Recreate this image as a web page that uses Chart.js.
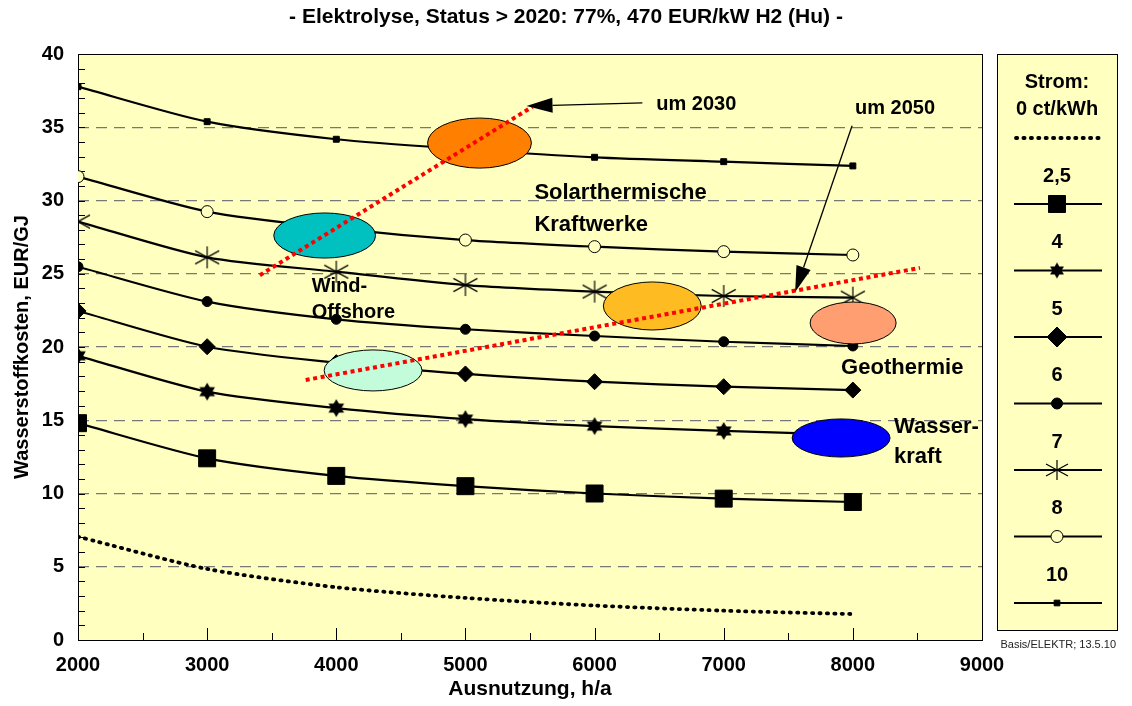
<!DOCTYPE html>
<html><head><meta charset="utf-8">
<script src="https://cdn.jsdelivr.net/npm/chart.js@4.4.0/dist/chart.umd.min.js"></script>
<style>html,body{margin:0;padding:0;background:#fff;}#wrap{width:1132px;height:706px;}</style>
</head><body><div id="wrap"><canvas id="c" width="1132" height="706"></canvas></div>
<script>
// ---------- data ----------
const hours = [2000, 3000, 4000, 5000, 6000, 7000, 8000];
const strom0  = [7.05, 4.85, 3.6, 2.87, 2.35, 2.0, 1.77];
const strom25 = [14.8, 12.4, 11.2, 10.5, 10.0, 9.65, 9.42];
const strom4  = [19.4, 16.95, 15.83, 15.08, 14.6, 14.27, 14.0];
const strom5  = [22.46, 20.02, 18.93, 18.16, 17.63, 17.29, 17.06];
const strom6  = [25.48, 23.1, 21.89, 21.21, 20.75, 20.36, 20.07];
const strom7  = [28.56, 26.12, 25.14, 24.23, 23.78, 23.48, 23.37];
const strom8  = [31.63, 29.24, 28.1, 27.3, 26.85, 26.51, 26.28];
const strom10 = [37.77, 35.38, 34.18, 33.5, 32.95, 32.65, 32.36];
const seriesLabels = ['0 ct/kWh', '2,5', '4', '5', '6', '7', '8', '10'];
const xTickValues = [2000, 3000, 4000, 5000, 6000, 7000, 8000, 9000];
const yTickValues = [0, 5, 10, 15, 20, 25, 30, 35, 40];
const titleText = '- Elektrolyse, Status > 2020: 77%, 470 EUR/kW H2 (Hu) -';
const xTitle = 'Ausnutzung, h/a';
const yTitle = 'Wasserstoffkosten, EUR/GJ';
const legendHeader = ['Strom:', '0 ct/kWh'];
const sourceNote = 'Basis/ELEKTR; 13.5.10';

// annotation shapes (data coordinates)
const ellipses = [
  {cx: 5109, cy: 33.92, rx: 402, ry: 1.71, color: '#FF8000'},
  {cx: 3910, cy: 27.61, rx: 394, ry: 1.54, color: '#00C0C0'},
  {cx: 6447, cy: 22.8,  rx: 379, ry: 1.64, color: '#FFBC22'},
  {cx: 8002, cy: 21.64, rx: 333, ry: 1.43, color: '#FF9E70'},
  {cx: 4285, cy: 18.4,  rx: 379, ry: 1.40, color: '#C2FCDB'},
  {cx: 7909, cy: 13.79, rx: 379, ry: 1.30, color: '#0000FF'}
];
const trendLines = [
  {x1: 3408, y1: 24.9, x2: 5519, y2: 36.4},
  {x1: 3763, y1: 17.75, x2: 8520, y2: 25.4}
];
const arrows = [
  {x1: 6370, y1: 36.66, x2: 5473, y2: 36.45},
  {x1: 7994, y1: 35.1, x2: 7553, y2: 23.75}
];
const labels = [
  {text: 'um 2030', x: 6478, y: 36.52, size: 20},
  {text: 'um 2050', x: 8017, y: 36.25, size: 20},
  {text: 'Solarthermische', x: 5534, y: 30.51, size: 22},
  {text: 'Kraftwerke', x: 5534, y: 28.3, size: 22},
  {text: 'Wind-', x: 3810, y: 24.16, size: 20},
  {text: 'Offshore', x: 3810, y: 22.39, size: 20},
  {text: 'Geothermie', x: 7909, y: 18.57, size: 22},
  {text: 'Wasser-', x: 8319, y: 14.54, size: 22},
  {text: 'kraft', x: 8319, y: 12.49, size: 22}
];

// ---------- marker images ----------
function makeHexagram(r) {
  const s = Math.ceil(2 * r + 2);
  const c = document.createElement('canvas'); c.width = s; c.height = s;
  const g = c.getContext('2d'); g.fillStyle = '#000';
  const cx = s / 2, cy = s / 2;
  [-Math.PI / 2, Math.PI / 2].forEach(off => {
    g.beginPath();
    for (let k = 0; k < 3; k++) {
      const a = off + k * 2 * Math.PI / 3;
      g.lineTo(cx + r * Math.cos(a), cy + r * Math.sin(a));
    }
    g.closePath(); g.fill();
  });
  return c;
}
function makeAsterisk(w, h) {
  const c = document.createElement('canvas'); c.width = w + 2; c.height = h + 2;
  const g = c.getContext('2d'); g.strokeStyle = '#000'; g.lineWidth = 1.2;
  const cx = (w + 2) / 2, cy = (h + 2) / 2;
  g.beginPath();
  g.moveTo(cx, 1); g.lineTo(cx, h + 1);
  g.moveTo(1, cy - h * 0.3); g.lineTo(w + 1, cy + h * 0.3);
  g.moveTo(1, cy + h * 0.3); g.lineTo(w + 1, cy - h * 0.3);
  g.stroke();
  return c;
}
const starImg = makeHexagram(9);
const starImgLegend = makeHexagram(8);
const astImg = makeAsterisk(24, 22);
const astImgLegend = makeAsterisk(22, 20);

const PLOT_BG = '#FFFFC0';
const FONT = '"Liberation Sans", Arial, sans-serif';

function lineDs(label, data, style) {
  return Object.assign({
    label: label,
    data: hours.map((h, i) => ({x: h, y: data[i]})),
    borderColor: '#000', borderWidth: 2.2, tension: 0.25,
    pointBackgroundColor: '#000', pointBorderColor: '#000', pointBorderWidth: 1,
    pointHoverRadius: 0, fill: false, yAxisID: 'y'
  }, style);
}
const datasets = [
  lineDs(seriesLabels[0], strom0, {borderWidth: 3.8, borderDash: [1.2, 6.2], borderCapStyle: 'round', pointRadius: 0}),
  lineDs(seriesLabels[1], strom25, {pointStyle: 'rect', pointRadius: 12}),
  lineDs(seriesLabels[2], strom4, {pointStyle: starImg, pointRadius: 9}),
  lineDs(seriesLabels[3], strom5, {pointStyle: 'rectRot', pointRadius: 8}),
  lineDs(seriesLabels[4], strom6, {pointStyle: 'circle', pointRadius: 5}),
  lineDs(seriesLabels[5], strom7, {pointStyle: astImg, pointRadius: 11}),
  lineDs(seriesLabels[6], strom8, {pointStyle: 'circle', pointRadius: 6, pointBackgroundColor: PLOT_BG, pointBorderWidth: 1}),
  lineDs(seriesLabels[7], strom10, {pointStyle: 'rect', pointRadius: 4.2})
];
const legendMarkers = [
  null,
  {pointStyle: 'rect', radius: 12, fill: '#000'},
  {pointStyle: starImgLegend, radius: 8, fill: '#000'},
  {pointStyle: 'rectRot', radius: 10, fill: '#000'},
  {pointStyle: 'circle', radius: 5.5, fill: '#000'},
  {pointStyle: astImgLegend, radius: 10, fill: '#000'},
  {pointStyle: 'circle', radius: 6, fill: PLOT_BG},
  {pointStyle: 'rect', radius: 4, fill: '#000'}
];

const decor = {
  id: 'decor',
  beforeDraw(chart) {
    const {ctx, chartArea: a} = chart;
    ctx.save();
    ctx.fillStyle = '#fff'; ctx.fillRect(0, 0, chart.width, chart.height);
    ctx.fillStyle = PLOT_BG; ctx.fillRect(a.left, a.top, a.right - a.left, a.bottom - a.top);
    ctx.restore();
  },
  beforeDatasetsDraw(chart) {
    const {ctx, chartArea: a, scales: {x, y}} = chart;
    ctx.save();
    ctx.strokeStyle = '#000'; ctx.lineWidth = 1;
    ctx.beginPath();
    for (let v = 1; v < 40; v++) {
      const py = Math.round(y.getPixelForValue(v)) + 0.5;
      ctx.moveTo(a.left, py); ctx.lineTo(a.left + 7, py);
    }
    for (let v = 2500; v < 9000; v += 500) {
      const pxx = Math.round(x.getPixelForValue(v)) + 0.5;
      const len = (v % 1000 === 0) ? 12 : 7;
      ctx.moveTo(pxx, a.bottom); ctx.lineTo(pxx, a.bottom - len);
    }
    ctx.stroke();
    ctx.strokeRect(Math.round(a.left) + 0.5, Math.round(a.top) + 0.5, Math.round(a.right - a.left), Math.round(a.bottom - a.top));
    ctx.restore();
  },
  afterDatasetsDraw(chart) {
    const {ctx, scales: {x, y}} = chart;
    const X = v => x.getPixelForValue(v), Y = v => y.getPixelForValue(v);
    ctx.save();
    ellipses.forEach(e => {
      const rx = X(e.cx + e.rx) - X(e.cx), ry = Y(e.cy - e.ry) - Y(e.cy);
      ctx.beginPath();
      ctx.ellipse(X(e.cx), Y(e.cy), rx, ry, 0, 0, Math.PI * 2);
      ctx.fillStyle = e.color; ctx.fill();
      ctx.lineWidth = 1; ctx.strokeStyle = '#000'; ctx.stroke();
    });
    ctx.strokeStyle = '#FF0000'; ctx.lineWidth = 4; ctx.setLineDash([4, 3.6]); ctx.lineCap = 'butt';
    trendLines.forEach(t => {
      ctx.beginPath(); ctx.moveTo(X(t.x1), Y(t.y1)); ctx.lineTo(X(t.x2), Y(t.y2)); ctx.stroke();
    });
    ctx.setLineDash([]);
    arrows.forEach(ar => {
      const x1 = X(ar.x1), y1 = Y(ar.y1), x2 = X(ar.x2), y2 = Y(ar.y2);
      const ang = Math.atan2(y2 - y1, x2 - x1);
      const hl = 26, hw = 7.5;
      const bx = x2 - hl * Math.cos(ang), by = y2 - hl * Math.sin(ang);
      ctx.strokeStyle = '#000'; ctx.lineWidth = 1.3;
      ctx.beginPath(); ctx.moveTo(x1, y1); ctx.lineTo(bx, by); ctx.stroke();
      ctx.fillStyle = '#000';
      ctx.beginPath();
      ctx.moveTo(x2, y2);
      ctx.lineTo(bx + hw * Math.sin(ang), by - hw * Math.cos(ang));
      ctx.lineTo(bx - hw * Math.sin(ang), by + hw * Math.cos(ang));
      ctx.closePath(); ctx.fill();
    });
    ctx.fillStyle = '#000'; ctx.textBaseline = 'middle'; ctx.textAlign = 'left';
    labels.forEach(l => {
      ctx.font = 'bold ' + l.size + 'px ' + FONT;
      ctx.fillText(l.text, X(l.x), Y(l.y));
    });
    ctx.restore();
  },
  afterDraw(chart) {
    const {ctx, chartArea: a} = chart;
    ctx.save();
    const L = 997, R = 1117, T = Math.round(a.top), B = 630;
    ctx.fillStyle = PLOT_BG; ctx.fillRect(L, T, R - L, B - T);
    ctx.strokeStyle = '#000'; ctx.lineWidth = 1; ctx.strokeRect(L + 0.5, T + 0.5, R - L, B - T);
    const cx = (L + R) / 2;
    ctx.fillStyle = '#000'; ctx.textAlign = 'center'; ctx.textBaseline = 'middle';
    ctx.font = 'bold 20px ' + FONT;
    ctx.fillText(legendHeader[0], cx, 82);
    ctx.fillText(legendHeader[1], cx, 109);
    ctx.strokeStyle = '#000'; ctx.lineWidth = 3.8; ctx.lineCap = 'round'; ctx.setLineDash([1.2, 6.2]);
    ctx.beginPath(); ctx.moveTo(1016, 138); ctx.lineTo(1100, 138); ctx.stroke();
    ctx.setLineDash([]); ctx.lineCap = 'butt';
    for (let i = 1; i < seriesLabels.length; i++) {
      const sy = 204 + 66.5 * (i - 1);
      ctx.fillStyle = '#000';
      ctx.font = 'bold 20px ' + FONT;
      ctx.fillText(seriesLabels[i], cx, sy - 28);
      ctx.strokeStyle = '#000'; ctx.lineWidth = 2.2;
      ctx.beginPath(); ctx.moveTo(1014, sy); ctx.lineTo(1102, sy); ctx.stroke();
      const m = legendMarkers[i];
      ctx.fillStyle = m.fill; ctx.strokeStyle = '#000'; ctx.lineWidth = 1;
      Chart.helpers.drawPoint(ctx, {pointStyle: m.pointStyle, radius: m.radius, rotation: 0, borderWidth: 1}, cx, sy);
    }
    ctx.font = '11px ' + FONT; ctx.fillStyle = '#222'; ctx.textAlign = 'right';
    ctx.fillText(sourceNote, 1116, 645);
    ctx.restore();
  }
};

new Chart(document.getElementById('c'), {
  type: 'line',
  data: {datasets: datasets},
  options: {
    responsive: false, animation: false, devicePixelRatio: 1,
    layout: {padding: 0},
    plugins: {
      legend: {display: false}, tooltip: {enabled: false},
      title: {display: true, text: titleText, color: '#000',
        font: {family: FONT, size: 21, weight: 'bold'}, padding: {top: 4.4, bottom: 24.4}}
    },
    scales: {
      x: {
        type: 'linear', min: 2000, max: 9000,
        afterFit: s => { s.height = 66; },
        afterBuildTicks: s => { s.ticks = xTickValues.map(v => ({value: v})); },
        ticks: {color: '#000', padding: 13, maxRotation: 0, autoSkip: false,
          callback: v => String(v),
          font: {family: FONT, size: 20, weight: 'bold'}},
        grid: {display: false, drawTicks: false},
        border: {display: false},
        title: {display: true, text: xTitle, color: '#000',
          font: {family: FONT, size: 21, weight: 'bold'}, padding: {top: 0, bottom: 4}}
      },
      y: {
        type: 'linear', position: 'left', min: 0, max: 40,
        afterFit: s => { s.width = 78; },
        afterBuildTicks: s => { s.ticks = yTickValues.map(v => ({value: v})); },
        ticks: {color: '#000', padding: 14, autoSkip: false,
          callback: v => String(v),
          font: {family: FONT, size: 20, weight: 'bold'}},
        grid: {drawTicks: false,
          color: c => (c.tick && c.tick.value > 0 && c.tick.value < 40) ? '#777' : 'rgba(0,0,0,0)',
          lineWidth: 1.3},
        border: {display: false, dash: [11, 7]},
        title: {display: true, text: yTitle, color: '#000',
          font: {family: FONT, size: 20, weight: 'bold'}, padding: {top: 10, bottom: 0}}
      },
      yr: {
        type: 'linear', position: 'right', min: 0, max: 40,
        afterFit: s => { s.width = 150; },
        ticks: {display: false},
        grid: {display: false, drawTicks: false},
        border: {display: false}
      }
    }
  },
  plugins: [decor]
});
</script>
</body></html>
